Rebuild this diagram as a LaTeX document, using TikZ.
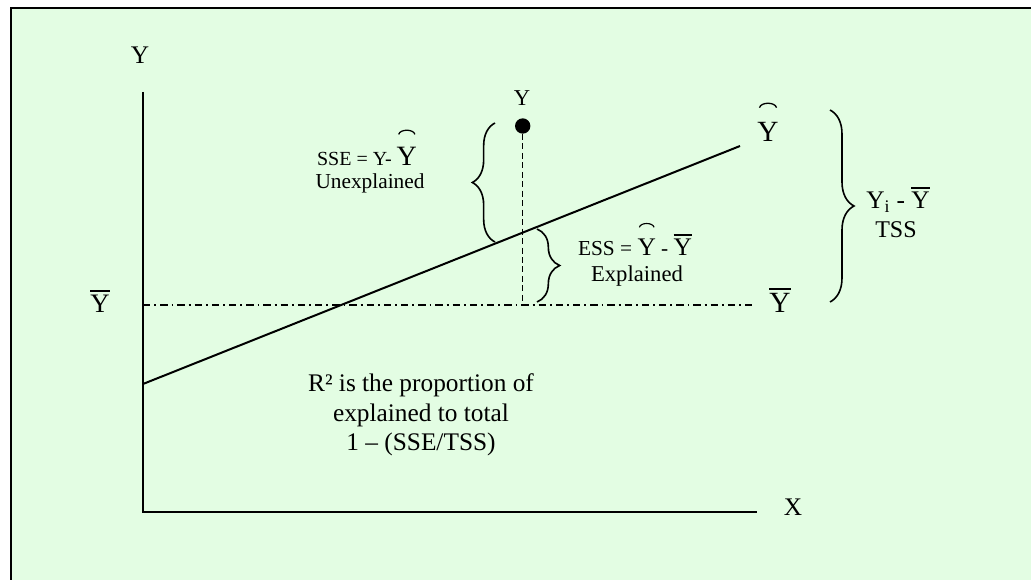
\documentclass[tikz,border=0pt]{standalone}
\usepackage{fontspec}
\setmainfont{Liberation Serif}
\usetikzlibrary{decorations.pathreplacing}
\definecolor{panelgreen}{RGB}{227,253,227}
\newsavebox\myybox
\newcommand\barY{\sbox\myybox{Y}\vbox{\hrule width\wd\myybox height 0.075em\kern0.13em\box\myybox}}
\newcommand\hatY{\sbox\myybox{Y}\vbox{\hbox to\wd\myybox{\hss\tikz[baseline=0pt,x=1pt,y=1pt]\draw[line width=0.045em] (0,0) .. controls (0.05em,0.2em) and (0.53em,0.2em) .. (0.58em,0);\hss}\kern0.08em\box\myybox}}
\begin{document}
\begin{tikzpicture}[x=0.75pt,y=-0.75pt,
  axis/.style={line width=1.5pt},
  regline/.style={line width=1.5pt},
  meanline/.style={line width=1.4pt, dash pattern=on 5.5pt off 3pt on 1.4pt off 3pt},
  dropline/.style={line width=1.1pt, dash pattern=on 4.5pt off 2.6pt},
  bracestyle/.style={line width=1.2pt, decorate, decoration={brace, amplitude=17pt, aspect=0.5}},
  lbl/.style={inner sep=0pt, text=black},
  dotstyle/.style={circle, fill=black, inner sep=0pt, minimum size=11.5pt},
]
\useasboundingbox (0,0) rectangle (1031,580);
\fill[white] (0,0) rectangle (1031,580);
\draw[line width=1.3pt, fill=panelgreen] (10.7,8.3) rectangle (1050,600);

% axes
\coordinate (O) at (143,512);
\coordinate (ytop) at (143,92);
\coordinate (xend) at (757,512);
\draw[axis] (ytop) -- (O) -- (xend);
\node[lbl, font=\fontsize{19}{22}\selectfont] (ylab) at (140,55) {Y};
\node[lbl, font=\fontsize{19}{22}\selectfont] (xlab) at (793,507) {X};

% mean line
\coordinate (ms) at (143,305);
\coordinate (me) at (753,305);
\draw[meanline] (ms) -- (me);
\node[lbl, font=\fontsize{20}{22}\selectfont, anchor=base] (ybarL) at (100,313) {\barY};
\node[lbl, font=\fontsize{22}{24}\selectfont, anchor=base] (ybarR) at (780,313) {\barY};

% regression line
\coordinate (rs) at (143,384);
\coordinate (re) at (740,146);
\draw[regline] (rs) -- (re);
\node[lbl, font=\fontsize{22}{24}\selectfont, anchor=base] (yhat) at (768,142) {\hatY};

% observation
\node[dotstyle] (pt) at (522.7,126) {};
\coordinate (foot) at (522.7,305);
\draw[dropline] (pt) -- (foot);
\node[lbl, font=\fontsize{17}{19}\selectfont] (ptlab) at (522,98) {Y};

% SSE brace
\coordinate (sseB) at (495,242);
\coordinate (sseT) at (495,123);
\draw[bracestyle] (sseB) -- (sseT);
\node[lbl, font=\fontsize{15}{18}\selectfont, anchor=base] (sse) at (367,166) {SSE = Y- {\fontsize{21}{22}\selectfont\hatY}};
\node[lbl, font=\fontsize{16}{18}\selectfont, anchor=base] (unexp) at (370,189) {Unexplained};

% ESS brace
\coordinate (essT) at (537,229);
\coordinate (essB) at (537,302);
\draw[bracestyle] (essT) -- (essB);
\node[lbl, font=\fontsize{16}{18}\selectfont, anchor=base] (ess) at (635,256) {ESS = {\fontsize{19}{20}\selectfont\hatY} - {\fontsize{19}{20}\selectfont\barY}};
\node[lbl, font=\fontsize{17}{18}\selectfont, anchor=base] (expl) at (637,282) {Explained};

% TSS brace
\coordinate (tssT) at (830,110);
\coordinate (tssB) at (830,302);
\draw[bracestyle, decoration={amplitude=18pt}] (tssT) -- (tssB);
\node[lbl, font=\fontsize{19}{22}\selectfont, anchor=base] (yiy) at (898,209) {Y\textsubscript{i} - \barY};
\node[lbl, font=\fontsize{18}{20}\selectfont, anchor=base] (tss) at (896,238) {TSS};

% R^2 text
\node[lbl, font=\fontsize{19}{22}\selectfont, align=center] (rsq) at (421,415)
  {R² is the proportion of\\explained to total\\1 – (SSE/TSS)};
\end{tikzpicture}
\end{document}
